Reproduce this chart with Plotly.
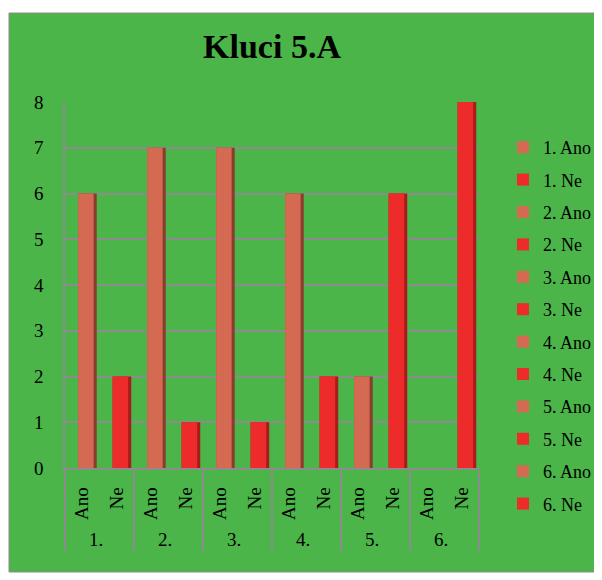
import plotly.graph_objects as go

groups = ["1.", "2.", "3.", "4.", "5.", "6."]
answers = ["Ano", "Ne"]
ano_values = [6, 7, 7, 6, 2, 0]
ne_values = [2, 1, 1, 2, 6, 8]
y_ticks = [0, 1, 2, 3, 4, 5, 6, 7, 8]
title_text = "Kluci 5.A"

face_colors = {"Ano": "#D56A52", "Ne": "#EE2B2B"}
side_colors = {"Ano": "#8A3D2E", "Ne": "#A81C1C"}
values = {"Ano": ano_values, "Ne": ne_values}

FONT = "Liberation Serif"
W, H = 594, 572          # page body has an 8px margin
L, R, T, B = 57, 123, 94, 112
pw, ph = W - L - R, H - T - B

fig = go.Figure()
for i, g in enumerate(groups):
    for ans in answers:
        v = values[ans][i]
        # darker side face (3D look)
        fig.add_trace(go.Bar(
            x=[[g], [ans]], y=[v], width=0.54, offset=-0.12,
            marker=dict(color=side_colors[ans], line=dict(width=0)),
            showlegend=False, legendgroup=f"{g}{ans}", hoverinfo="skip"))
        fig.add_trace(go.Bar(
            x=[[g], [ans]], y=[v], width=0.45, offset=-0.12,
            name=f"{g} {ans}", legendgroup=f"{g}{ans}",
            marker=dict(color=face_colors[ans], line=dict(width=0))))

def px_x(p):
    return (p - L) / pw

def px_y(p):
    return (H - B - p) / ph

fig.add_shape(type="rect", xref="paper", yref="paper",
              x0=px_x(1), x1=px_x(593), y0=px_y(564), y1=px_y(5),
              fillcolor="#4BB549", line=dict(color="#8C8C8C", width=1),
              layer="below")

fig.update_layout(
    width=W, height=H,
    margin=dict(l=L, r=R, t=T, b=B, autoexpand=False),
    paper_bgcolor="white", plot_bgcolor="rgba(0,0,0,0)",
    barmode="overlay",
    font=dict(family=FONT, size=17, color="black"),
    title=dict(text=title_text, x=0.5, xref="paper", xanchor="center",
               y=1 - 38 / H, yref="container", yanchor="middle",
               font=dict(family=FONT, size=34, color="black", weight="bold")),
    legend=dict(x=px_x(495), y=px_y(121), xanchor="left", yanchor="top",
                bgcolor="rgba(0,0,0,0)", tracegroupgap=6, maxheight=520,
                font=dict(family=FONT, size=18)),
    showlegend=True,
)
fig.update_yaxes(range=[0, 8], tickvals=y_ticks, showgrid=True,
                 gridcolor="#8C8C8C", gridwidth=1.5, showline=True,
                 linecolor="#8C8C8C", linewidth=1.5, zeroline=False,
                 ticks="", ticklabelstandoff=16, tickfont=dict(size=19))
fig.update_xaxes(type="multicategory", tickangle=-90, showline=True,
                 linecolor="#8C8C8C", linewidth=1.5, showdividers=True,
                 dividercolor="#8C8C8C", dividerwidth=1.5, ticks="",
                 ticklabelstandoff=10, tickfont=dict(size=19))

fig.write_html("out.html")
